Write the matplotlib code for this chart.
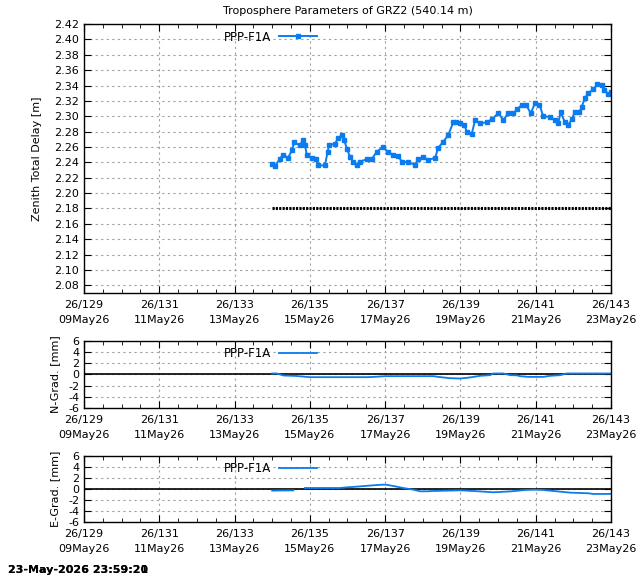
import numpy as np
import matplotlib
matplotlib.use("Agg")
import matplotlib.pyplot as plt
from matplotlib.ticker import MultipleLocator

# ZTD solution PPP-F1A (day of year 2026, metres)
ztd_days = [133.99, 134.07, 134.21, 134.29, 134.42, 134.53, 134.58, 134.74, 134.81, 134.87,
            134.92, 135.05, 135.16, 135.22, 135.40, 135.47, 135.51, 135.67, 135.75, 135.85,
            135.91, 135.99, 136.07, 136.15, 136.24, 136.33, 136.51, 136.64, 136.78, 136.94,
            137.08, 137.22, 137.35, 137.44, 137.62, 137.79, 137.88, 138.01, 138.15, 138.33,
            138.41, 138.55, 138.68, 138.81, 138.88, 138.99, 139.10, 139.17, 139.30, 139.39,
            139.52, 139.70, 139.83, 140.01, 140.14, 140.27, 140.41, 140.51, 140.63, 140.74,
            140.87, 140.98, 141.10, 141.20, 141.38, 141.51, 141.60, 141.66, 141.78, 141.87,
            141.96, 142.04, 142.16, 142.22, 142.31, 142.40, 142.53, 142.64, 142.75, 142.82,
            142.93, 143.00]
ztd_vals = [2.238, 2.235, 2.245, 2.250, 2.246, 2.256, 2.266, 2.262, 2.269, 2.262,
            2.250, 2.246, 2.244, 2.236, 2.236, 2.253, 2.263, 2.264, 2.272, 2.275,
            2.269, 2.257, 2.247, 2.240, 2.236, 2.241, 2.244, 2.244, 2.254, 2.260,
            2.253, 2.250, 2.248, 2.241, 2.240, 2.237, 2.244, 2.247, 2.243, 2.246,
            2.259, 2.267, 2.276, 2.292, 2.293, 2.291, 2.289, 2.280, 2.277, 2.295,
            2.291, 2.292, 2.296, 2.304, 2.295, 2.304, 2.304, 2.309, 2.315, 2.315,
            2.304, 2.317, 2.315, 2.300, 2.299, 2.295, 2.291, 2.305, 2.292, 2.289,
            2.296, 2.306, 2.305, 2.312, 2.324, 2.330, 2.335, 2.342, 2.341, 2.334,
            2.329, 2.332]
apriori_days = [134.0, 143.0]
apriori_vals = [2.1812, 2.1812]

# north gradient [mm]
ngrad_days = [134.0, 134.12, 134.3, 134.6, 134.7, 134.92, 135.0, 136.5, 136.7, 137.0,
              138.28, 138.41, 138.72, 138.99, 139.17, 139.3, 139.52, 139.79, 139.87, 140.14,
              140.32, 140.5, 140.58, 140.8, 140.94, 141.2, 141.38, 141.65, 141.82, 143.0]
ngrad_vals = [0.18, 0.18, -0.18, -0.25, -0.3, -0.43, -0.48, -0.48, -0.43, -0.3,
              -0.3, -0.43, -0.66, -0.72, -0.6, -0.48, -0.24, -0.12, 0.18, 0.18,
              -0.12, -0.15, -0.3, -0.43, -0.43, -0.43, -0.24, -0.12, 0.18, 0.18]

# east gradient [mm]  (nan = gap)
egrad_days = [134.0, 134.1, 134.56, 134.7, 134.87, 135.8, 135.98, 136.24, 136.55, 136.91,
              137.04, 137.17, 137.31, 137.48, 137.75, 137.93, 138.10, 138.28, 138.64, 138.99,
              139.17, 139.48, 139.87, 140.05, 140.36, 140.72, 140.98, 141.20, 141.56, 141.91,
              142.40, 142.53, 143.0]
egrad_vals = [-0.3, -0.28, -0.25, np.nan, 0.18, 0.18, 0.3, 0.42, 0.6, 0.78,
              0.78, 0.6, 0.42, 0.18, -0.12, -0.42, -0.42, -0.36, -0.3, -0.24,
              -0.3, -0.42, -0.6, -0.54, -0.42, -0.18, -0.12, -0.18, -0.42, -0.66,
              -0.78, -0.9, -0.9]

tick_days = [129, 131, 133, 135, 137, 139, 141, 143]
tick_labels = ["26/129\n09May26", "26/131\n11May26", "26/133\n13May26", "26/135\n15May26",
               "26/137\n17May26", "26/139\n19May26", "26/141\n21May26", "26/143\n23May26"]

blue = "#0a7cf0"
plt.rcParams['font.family'] = ['DejaVu Sans']
plt.rcParams['font.size'] = 8
plt.rcParams['axes.unicode_minus'] = False

fig = plt.figure(figsize=(6.4, 5.76), dpi=100)
ax1 = fig.add_axes([0.13125, 0.4913, 0.8234, 0.467])
ax2 = fig.add_axes([0.13125, 0.2917, 0.8234, 0.1163])
ax3 = fig.add_axes([0.13125, 0.09375, 0.8234, 0.1146])

def style(ax):
    ax.set_xlim(129, 143)
    ax.set_xticks(tick_days)
    ax.set_xticklabels(tick_labels, fontsize=8, linespacing=1.65)
    ax.xaxis.set_minor_locator(MultipleLocator(0.5))
    ax.tick_params(which='both', direction='in', top=True, right=True)
    ax.tick_params(which='major', length=5)
    ax.tick_params(which='minor', length=3)
    ax.tick_params(axis='x', pad=5)
    ax.grid(True, which='major', color='#a0a0a0', linestyle=(0, (2, 3)), linewidth=0.8)
    for s in ax.spines.values():
        s.set_linewidth(1.0)

# ZTD panel
ax1.plot(ztd_days, ztd_vals, color=blue, marker='s', markersize=2.5, linewidth=1.4, label='PPP-F1A')
ax1.plot(apriori_days, apriori_vals, color='black', linestyle=(0, (0.7, 0.4)), linewidth=2.2)
style(ax1)
ax1.set_ylim(2.07, 2.42)
ax1.set_yticks(np.arange(2.08, 2.4201, 0.02))
ax1.set_yticklabels(["%.2f" % v for v in np.arange(2.08, 2.4201, 0.02)])
ax1.set_ylabel('Zenith Total Delay [m]', labelpad=9)
ax1.set_title('Troposphere Parameters of GRZ2 (540.14 m)', fontsize=8, pad=7)
ax1.legend(loc='upper left', bbox_to_anchor=(0.245, 1.015), frameon=False, markerfirst=False,
           handlelength=3.2, handletextpad=0.7, fontsize=8.5)

# gradients
for ax, days, vals, lab in [(ax2, ngrad_days, ngrad_vals, 'N-Grad. [mm]'),
                            (ax3, egrad_days, egrad_vals, 'E-Grad. [mm]')]:
    ax.axhline(0, color='black', linewidth=1.2)
    ax.plot(days, vals, color=blue, linewidth=1.3, label='PPP-F1A')
    style(ax)
    ax.set_ylim(-6, 6)
    ax.set_yticks([-6, -4, -2, 0, 2, 4, 6])
    ax.set_ylabel(lab, labelpad=6)
    ax.legend(loc='upper left', bbox_to_anchor=(0.245, 1.07), frameon=False, markerfirst=False,
              handlelength=3.2, handletextpad=0.7, fontsize=8.5)

fig.text(0.012, 0.006, '23-May-2026 23:59:21', fontsize=8, fontweight='semibold')
fig.text(0.013, 0.006, '23-May-2026 23:59:20', fontsize=8, fontweight='semibold')

fig.savefig('out.png', dpi=100)
